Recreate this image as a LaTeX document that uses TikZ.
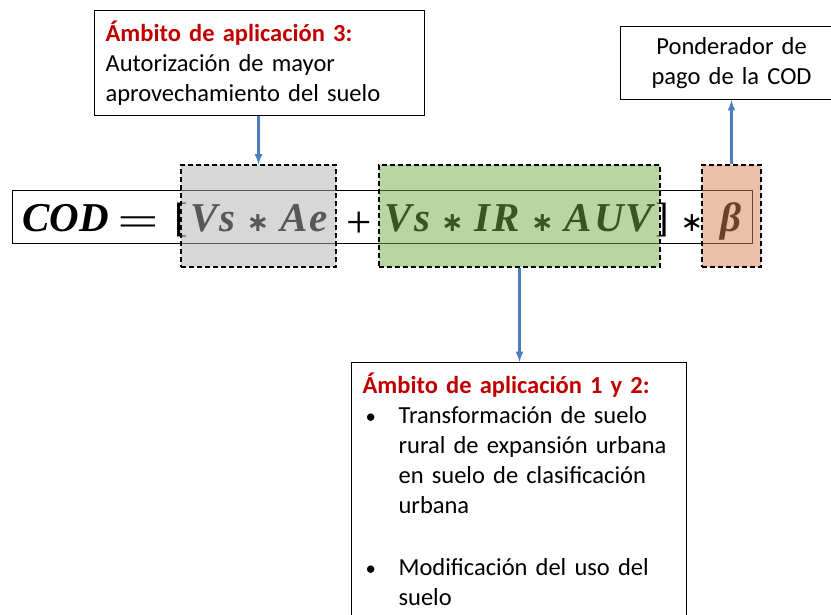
\documentclass[tikz,border=0pt]{standalone}
\usepackage{fontspec}
\setmainfont{Carlito}
\newfontfamily\eqfont{Liberation Serif}
\newfontfamily\termfont[LetterSpace=5]{Liberation Serif}
\newfontfamily\opfont{DejaVu Sans}
\usetikzlibrary{arrows,positioning,calc}
\definecolor{ambred}{RGB}{192,0,0}
\definecolor{arrowblue}{RGB}{74,126,193}
\definecolor{termgray}{RGB}{175,175,175}
\definecolor{termgreen}{RGB}{112,173,71}
\definecolor{termorange}{RGB}{215,130,85}
\setlength{\parindent}{0pt}

\newcommand{\eqsize}{\fontsize{41}{44}\selectfont}
\newcommand{\mulop}{\hspace{11pt}{\opfont\fontsize{27}{27}\selectfont ∗}\hspace{11pt}}
\newcommand{\ambtitle}[1]{{\color{ambred}\bfseries #1}}
\newcommand{\bitem}[1]{\makebox[36pt][l]{\hspace{3pt}\scalebox{0.85}{\textbullet}}\parbox[t]{275pt}{#1}}

\begin{document}
\begin{tikzpicture}[x=1pt,y=-1pt,>=latex,
  callout/.style={draw,line width=1.2pt,anchor=north west,align=left,
    font=\fontsize{24.5}{30}\selectfont,inner xsep=11pt,inner ysep=10pt},
  eqtext/.style={font=\eqfont\eqsize,inner sep=0pt,anchor=base},
  term/.style={draw=black,line width=1.1pt,dash pattern=on 5pt off 3pt,
    fill opacity=0.5,minimum height=102,inner sep=0pt},
  link/.style={->,arrowblue,line width=2.5pt}]
\useasboundingbox (0,0) rectangle (831,615);

% formula
\node[draw,line width=1.2pt,minimum width=740,minimum height=53,anchor=north west] (codbox) at (12,190) {};
\node[eqtext,anchor=base west] (cod) at (22,232) {\bfseries\itshape COD};
\node[eqtext] (eq) at (138,236) {\scalebox{1.8}[1]{=}};
\node[eqtext] (lb) at (181,232) {[};
\node[eqtext,font=\termfont\eqsize] (vsae) at (259,232) {\bfseries\itshape Vs\mulop Ae};
\node[eqtext,font=\eqfont\fontsize{45}{45}\selectfont] (plus) at (359,237) {+};
\node[eqtext,font=\termfont\eqsize] (vsir) at (519,232) {\bfseries\itshape Vs\mulop IR\mulop AUV};
\node[eqtext] (rb) at (662,232) {]};
\node[eqtext,font=\opfont\fontsize{27}{27}\selectfont] (star) at (692,232) {∗};
\node[eqtext] (beta) at (731,232) {\bfseries\itshape β};

% terms
\node[term,fill=termgray,minimum width=155] (ae) at (258.5,216) {};
\node[term,fill=termgreen,minimum width=281] (av) at (519.5,216) {};
\node[term,fill=termorange,minimum width=59] (pb) at (731.5,216) {};

% callouts
\node[callout,text width=308] (amb3) at (94,10)
  {\ambtitle{Ámbito de aplicación 3:}\\Autorización de mayor\\aprovechamiento del suelo};
\node[callout,align=center,text width=200,minimum height=73] (pond) at (620,26)
  {Ponderador de\\pago de la COD};
\node[callout,text width=313] (amb12) at (351,362)
  {\ambtitle{Ámbito de aplicación 1 y 2:}\par
   \bitem{Transformación de suelo\\rural de expansión urbana\\en suelo de clasificación\\urbana}\par
   \vspace{44pt}
   \bitem{Modificación del uso del\\suelo}\par\vspace{30pt}};

\draw[link] (amb3.south -| ae.north) -- (ae.north);
\draw[link] (av.south) -- (av.south |- amb12.north);
\draw[link] (pb.north) -- (pb.north |- pond.south);
\end{tikzpicture}
\end{document}
